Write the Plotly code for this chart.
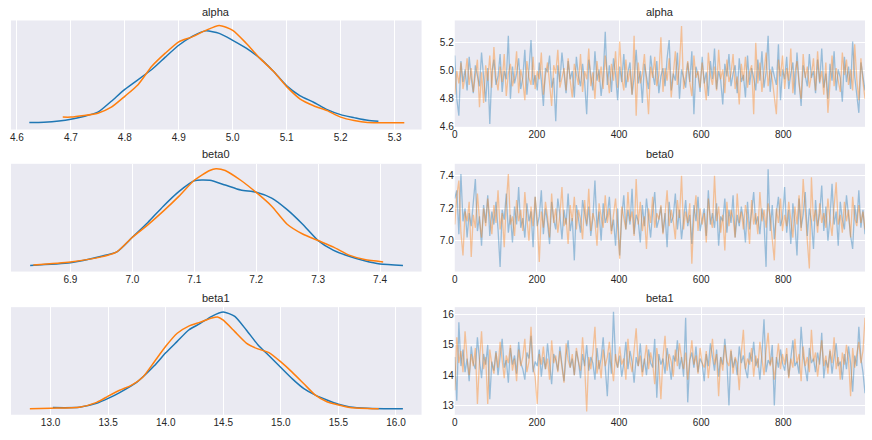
import numpy as np
import plotly.graph_objects as go

# ---------------- data ----------------
params = ["alpha", "beta0", "beta1"]

# KDE curves (value grid, density) read from the left column
alpha_kde_x_c0 = [4.623, 4.65, 4.70, 4.75, 4.775, 4.80, 4.85, 4.875, 4.90, 4.925, 4.95, 4.975, 5.00, 5.025, 5.05, 5.075, 5.10, 5.125, 5.15, 5.175, 5.20, 5.225, 5.25, 5.27]
alpha_kde_y_c0 = [0.08, 0.09, 0.21, 0.50, 0.94, 1.42, 2.22, 2.72, 3.20, 3.56, 3.78, 3.68, 3.40, 3.08, 2.68, 2.16, 1.56, 1.16, 0.90, 0.60, 0.40, 0.28, 0.17, 0.13]
alpha_kde_x_c1 = [4.685, 4.70, 4.75, 4.775, 4.80, 4.825, 4.85, 4.875, 4.90, 4.925, 4.95, 4.975, 5.00, 5.025, 5.05, 5.075, 5.10, 5.125, 5.15, 5.175, 5.20, 5.225, 5.25, 5.30, 5.318]
alpha_kde_y_c1 = [0.30, 0.30, 0.46, 0.70, 1.14, 1.62, 2.35, 2.88, 3.34, 3.54, 3.80, 4.00, 3.80, 3.28, 2.68, 2.16, 1.53, 1.03, 0.76, 0.56, 0.30, 0.16, 0.08, 0.07, 0.07]

beta0_kde_x_c0 = [6.835, 6.90, 6.95, 6.975, 7.00, 7.025, 7.05, 7.075, 7.10, 7.125, 7.15, 7.175, 7.20, 7.225, 7.25, 7.275, 7.30, 7.325, 7.35, 7.375, 7.40, 7.437]
beta0_kde_y_c0 = [0.06, 0.18, 0.48, 0.68, 1.35, 2.03, 2.78, 3.45, 3.95, 3.97, 3.75, 3.52, 3.42, 3.15, 2.62, 1.95, 1.20, 0.75, 0.48, 0.27, 0.12, 0.06]
beta0_kde_x_c1 = [6.84, 6.90, 6.95, 6.975, 7.00, 7.025, 7.05, 7.075, 7.10, 7.125, 7.135, 7.15, 7.175, 7.20, 7.225, 7.25, 7.275, 7.30, 7.325, 7.35, 7.375, 7.405]
beta0_kde_y_c1 = [0.08, 0.22, 0.45, 0.68, 1.35, 1.92, 2.55, 3.23, 3.97, 4.42, 4.50, 4.42, 3.97, 3.41, 2.78, 1.95, 1.50, 1.20, 0.90, 0.53, 0.33, 0.22]

beta1_kde_x_c0 = [13.02, 13.25, 13.40, 13.50, 13.60, 13.75, 13.90, 14.00, 14.10, 14.20, 14.30, 14.40, 14.50, 14.60, 14.70, 14.80, 14.90, 15.00, 15.10, 15.20, 15.30, 15.40, 15.50, 15.60, 15.75, 16.06]
beta1_kde_y_c0 = [0.021, 0.024, 0.060, 0.105, 0.159, 0.255, 0.405, 0.525, 0.630, 0.735, 0.795, 0.861, 0.900, 0.861, 0.735, 0.600, 0.495, 0.390, 0.285, 0.195, 0.135, 0.090, 0.051, 0.027, 0.015, 0.009]
beta1_kde_x_c1 = [12.82, 13.00, 13.25, 13.40, 13.50, 13.60, 13.70, 13.80, 13.90, 14.00, 14.10, 14.20, 14.30, 14.40, 14.45, 14.50, 14.60, 14.70, 14.80, 14.90, 15.00, 15.10, 15.20, 15.30, 15.40, 15.50, 15.60, 15.85]
beta1_kde_y_c1 = [0.009, 0.015, 0.024, 0.069, 0.126, 0.180, 0.225, 0.300, 0.441, 0.585, 0.705, 0.771, 0.807, 0.846, 0.855, 0.825, 0.720, 0.615, 0.561, 0.525, 0.441, 0.345, 0.240, 0.135, 0.075, 0.045, 0.021, 0.009]

# Trace samples (thinned reading of the right column, 1000 draws per chain)
alpha_trace_c0 = [
    5.11, 4.80, 4.68, 5.07, 4.92, 5.01, 4.86, 5.10, 4.95, 4.84, 5.04, 4.97, 4.89, 5.13, 4.93, 4.78, 5.02, 4.62, 4.99, 5.08,
    4.90, 4.96, 5.12, 4.85, 5.00, 4.94, 5.25, 4.80, 5.03, 4.91, 4.98, 5.09, 4.87, 4.95, 5.15, 4.83, 5.01, 5.22, 4.90, 4.97,
    4.86, 5.06, 4.93, 4.75, 5.02, 4.99, 5.11, 4.88, 4.95, 4.64, 5.04, 4.92, 5.13, 4.97, 4.84, 5.07, 4.94, 5.00, 4.81, 5.10,
    4.96, 4.89, 5.05, 4.92, 4.69, 5.08, 4.98, 4.86, 5.14, 4.93, 5.01, 4.82, 4.96, 5.28, 4.90, 5.04, 4.85, 5.09, 4.97, 4.79,
    5.03, 4.92, 5.12, 4.88, 4.99, 5.06, 4.83, 4.95, 5.15, 4.91, 5.00, 4.77, 5.05, 4.94, 4.87, 5.11, 4.98, 4.90, 5.07, 4.84,
    4.96, 5.02, 4.89, 5.09, 5.22, 4.86, 4.98, 4.93, 5.13, 4.80, 5.01, 4.95, 4.88, 5.06, 4.92, 5.14, 4.69, 5.03, 4.97, 4.85,
    5.10, 4.91, 4.99, 4.82, 5.07, 4.94, 5.16, 4.87, 5.00, 4.93, 4.76, 5.05, 4.96, 5.12, 4.89, 4.98, 5.04, 4.84, 5.09, 4.92,
    4.97, 4.81, 5.11, 4.90, 5.02, 4.95, 4.86, 5.08, 4.93, 5.14, 4.88, 4.99, 5.25, 4.85, 5.03, 4.96, 4.90, 5.19, 4.79, 5.01,
    4.94, 5.10, 4.87, 4.98, 5.06, 4.83, 5.13, 4.92, 4.75, 5.04, 4.97, 4.89, 5.12, 4.95, 5.00, 4.84, 5.08, 4.91, 5.16, 4.88,
    4.98, 4.80, 5.05, 4.93, 5.14, 4.86, 5.01, 4.95, 4.78, 5.10, 4.92, 5.03, 4.87, 5.21, 4.96, 4.83, 4.70, 5.06, 4.94, 4.86]
alpha_trace_c1 = [
    4.83, 5.00, 4.91, 5.06, 4.87, 4.96, 5.09, 4.90, 5.02, 4.85, 4.97, 5.08, 4.74, 4.99, 4.77, 5.04, 4.93, 5.11, 4.88, 5.17,
    4.95, 4.86, 5.03, 4.92, 5.12, 4.82, 4.98, 5.05, 4.89, 4.96, 5.14, 4.84, 5.01, 4.93, 4.79, 5.07, 4.95, 4.90, 5.10, 4.87,
    5.00, 4.94, 5.13, 4.83, 4.97, 5.06, 4.91, 4.75, 5.04, 4.98, 5.15, 4.88, 4.95, 5.02, 4.86, 5.09, 4.93, 4.81, 5.05, 4.97,
    4.90, 5.12, 4.85, 5.00, 4.94, 5.16, 4.89, 4.99, 4.80, 5.07, 4.92, 5.03, 4.87, 5.11, 4.96, 4.84, 5.05, 4.93, 5.14, 4.88,
    5.21, 4.95, 4.86, 5.08, 4.92, 5.01, 4.83, 5.25, 4.68, 5.06, 4.91, 4.98, 5.12, 4.87, 4.69, 5.03, 4.95, 5.10, 4.89, 4.97,
    5.24, 4.85, 5.02, 4.93, 5.09, 4.81, 4.98, 5.14, 4.90, 5.04, 5.32, 4.87, 4.96, 5.07, 4.92, 4.82, 5.11, 4.95, 5.00, 4.88,
    5.06, 4.93, 4.79, 5.13, 4.97, 4.90, 5.03, 4.86, 5.15, 4.94, 5.01, 4.84, 5.08, 4.92, 4.98, 5.12, 4.87, 4.96, 4.76, 5.05,
    4.93, 5.10, 4.88, 4.99, 5.04, 4.69, 5.20, 4.91, 5.06, 4.85, 4.97, 5.13, 4.89, 5.01, 4.94, 4.82, 4.69, 5.08, 4.96, 5.11,
    4.87, 5.02, 4.93, 5.16, 4.84, 4.99, 5.07, 4.91, 4.80, 5.12, 4.95, 5.03, 4.88, 4.97, 5.09, 4.86, 5.14, 4.92, 5.00, 4.83,
    5.06, 4.70, 4.95, 5.11, 4.89, 5.02, 4.93, 4.85, 5.13, 4.97, 5.08, 4.90, 5.01, 4.86, 5.19, 4.94, 4.79, 5.09, 4.92, 4.80]

beta0_trace_c0 = [
    7.26, 7.31, 7.04, 7.41, 7.12, 7.20, 7.02, 7.17, 7.09, 7.25, 7.38, 7.06, 7.15, 6.97, 7.22, 7.11, 7.28, 7.03, 7.18, 7.10,
    7.24, 7.07, 6.84, 7.19, 7.13, 7.29, 7.05, 7.16, 6.99, 7.21, 7.10, 7.33, 7.08, 7.14, 7.02, 7.23, 7.12, 7.18, 6.96, 7.27,
    7.09, 7.15, 7.31, 7.04, 7.20, 7.11, 6.98, 7.24, 7.13, 7.07, 7.26, 7.16, 7.01, 7.19, 7.10, 7.29, 7.06, 7.14, 6.88, 7.22,
    7.12, 7.05, 7.25, 7.17, 7.09, 7.21, 7.03, 7.14, 7.37, 7.08, 7.18, 7.00, 7.23, 7.11, 7.16, 7.27, 7.06, 7.13, 6.97, 7.20,
    6.91, 7.15, 7.28, 7.07, 7.19, 7.10, 7.32, 7.04, 7.16, 7.12, 6.99, 7.22, 7.09, 7.26, 7.14, 7.02, 7.18, 7.30, 7.08, 7.13,
    7.21, 7.05, 7.17, 6.96, 7.24, 7.11, 7.15, 7.29, 7.07, 7.19, 7.01, 7.13, 7.25, 7.09, 7.16, 6.98, 7.22, 7.12, 7.27, 7.06,
    7.14, 7.20, 7.03, 7.31, 7.10, 7.17, 7.08, 7.23, 6.97, 7.15, 7.12, 7.26, 7.05, 7.19, 7.11, 7.28, 7.02, 7.16, 7.09, 7.21,
    7.13, 6.99, 7.24, 7.07, 7.18, 7.30, 7.10, 7.15, 7.04, 7.20, 7.12, 6.84, 7.44, 7.06, 7.22, 7.01, 7.17, 7.27, 7.09, 7.14,
    7.33, 7.05, 7.19, 6.98, 7.23, 7.11, 6.91, 7.26, 7.08, 7.16, 7.30, 7.03, 7.20, 7.12, 6.95, 7.25, 7.09, 7.17, 7.34, 7.06,
    7.21, 7.00, 7.14, 7.35, 7.10, 7.18, 6.97, 7.24, 7.13, 7.07, 7.28, 7.15, 7.03, 6.95, 7.22, 7.11, 7.31, 7.08, 7.19, 7.04]
beta0_trace_c1 = [
    7.10, 7.28, 7.37, 7.05, 6.91, 7.18, 7.12, 7.24, 6.90, 7.16, 7.08, 7.29, 7.13, 7.02, 7.20, 7.09, 7.26, 7.14, 7.04, 7.22,
    7.11, 7.31, 7.07, 7.17, 6.96, 7.23, 7.41, 7.10, 7.15, 7.03, 7.25, 7.12, 7.19, 7.06, 7.30, 7.14, 7.00, 7.21, 7.09, 7.27,
    7.13, 6.87, 7.18, 7.08, 7.24, 7.15, 7.02, 7.29, 7.11, 7.20, 7.05, 7.16, 7.33, 7.09, 7.14, 6.98, 7.22, 7.12, 7.27, 7.07,
    7.19, 7.13, 7.01, 7.25, 7.10, 7.32, 7.06, 7.17, 7.12, 6.97, 7.23, 7.15, 7.08, 7.28, 7.11, 7.20, 7.04, 7.16, 7.26, 7.09,
    6.89, 7.21, 7.14, 7.07, 7.30, 7.12, 7.18, 7.03, 7.38, 7.10, 7.24, 7.06, 7.15, 6.95, 7.20, 7.11, 7.27, 7.08, 7.17, 7.13,
    7.22, 7.04, 7.16, 7.31, 7.09, 7.19, 7.12, 7.01, 7.25, 7.14, 7.40, 7.07, 7.18, 7.11, 7.23, 6.86, 7.15, 7.28, 7.06, 7.20,
    7.10, 7.17, 6.99, 7.26, 7.13, 7.08, 7.40, 7.12, 7.21, 7.05, 7.16, 6.94, 7.24, 7.09, 7.19, 7.14, 7.02, 7.29, 7.11, 7.18,
    7.07, 7.22, 7.13, 6.98, 7.25, 7.10, 7.17, 7.04, 7.30, 7.12, 7.19, 7.08, 7.23, 7.15, 7.01, 6.88, 7.20, 7.11, 7.26, 7.06,
    7.16, 7.09, 7.24, 7.13, 7.02, 7.21, 7.10, 7.28, 7.06, 7.38, 7.15, 7.00, 6.83, 7.39, 7.12, 7.19, 7.05, 7.23, 7.11, 7.17,
    7.08, 7.26, 7.13, 7.03, 7.21, 7.36, 7.10, 7.16, 7.05, 7.24, 7.12, 7.19, 7.02, 7.27, 7.14, 7.09, 7.22, 7.11, 7.18, 7.07]

beta1_trace_c0 = [
    14.60, 13.15, 15.75, 14.30, 14.85, 14.10, 14.55, 13.80, 14.95, 14.40, 14.20, 15.25, 14.50, 13.90, 14.70, 14.35, 15.00, 13.20, 14.45, 14.15,
    14.80, 14.00, 14.60, 15.20, 14.25, 14.50, 13.75, 14.90, 14.35, 14.65, 14.05, 15.10, 14.40, 14.20, 13.85, 14.75, 14.55, 15.30, 14.10, 14.45,
    14.30, 14.85, 13.95, 14.60, 14.20, 15.05, 14.40, 13.70, 14.70, 14.50, 14.15, 14.95, 14.35, 13.80, 14.65, 15.15, 14.25, 14.55, 14.00, 14.80,
    14.45, 13.90, 14.70, 14.30, 15.00, 14.15, 14.60, 14.40, 13.85, 14.90, 14.20, 14.55, 15.25, 14.35, 13.30, 14.75, 14.05, 16.10, 14.50, 14.25,
    14.65, 13.95, 14.40, 15.10, 14.20, 14.80, 14.45, 13.75, 14.60, 14.30, 15.05, 14.10, 14.55, 14.00, 14.85, 14.40, 14.25, 15.20, 13.25, 14.70,
    14.35, 14.55, 14.05, 14.90, 14.30, 13.85, 14.65, 14.45, 15.15, 14.20, 14.60, 13.95, 15.90, 13.10, 14.50, 14.75, 14.25, 14.95, 14.10, 14.55,
    14.40, 13.80, 14.70, 14.30, 15.05, 14.50, 14.15, 14.85, 13.95, 14.60, 14.35, 15.20, 14.45, 13.00, 14.80, 14.25, 14.55, 14.00, 14.95, 14.40,
    14.65, 14.20, 13.90, 14.75, 14.45, 15.10, 14.30, 14.55, 13.85, 14.70, 15.85, 14.10, 14.50, 14.35, 15.00, 13.00, 14.60, 14.25, 14.85, 14.40,
    14.15, 14.70, 13.95, 14.55, 15.15, 14.30, 14.45, 14.05, 15.60, 14.65, 14.20, 13.80, 14.90, 14.40, 14.55, 14.10, 14.75, 14.35, 15.40, 13.90,
    14.50, 14.25, 14.80, 14.05, 14.60, 15.05, 14.30, 14.45, 13.85, 14.70, 14.20, 14.95, 14.40, 13.45, 14.65, 14.30, 15.60, 14.55, 14.10, 13.40]
beta1_trace_c1 = [
    13.50, 15.25, 14.40, 14.80, 14.10, 15.45, 14.55, 14.00, 14.70, 14.30, 14.90, 13.05, 14.45, 15.45, 14.20, 14.60, 13.05, 14.85, 14.35, 14.05,
    14.75, 14.25, 15.10, 14.50, 13.90, 14.65, 14.40, 15.00, 14.15, 14.55, 13.80, 14.85, 14.30, 14.60, 15.20, 14.10, 14.45, 15.60, 14.25, 13.95,
    13.05, 14.70, 14.35, 14.95, 14.20, 14.55, 13.85, 15.15, 14.40, 14.65, 14.10, 14.80, 14.30, 13.75, 15.05, 14.50, 14.25, 14.70, 14.00, 14.90,
    14.45, 14.15, 15.25, 14.35, 12.80, 14.60, 14.20, 14.75, 15.60, 14.05, 14.50, 13.90, 14.85, 14.30, 14.60, 15.10, 14.40, 13.80, 14.70, 14.25,
    14.95, 14.35, 14.55, 13.85, 15.20, 14.45, 14.10, 14.80, 15.55, 14.30, 14.65, 13.95, 14.50, 15.00, 14.20, 14.75, 14.40, 13.70, 14.90, 14.35,
    13.20, 14.60, 15.30, 14.15, 14.70, 14.45, 13.95, 14.85, 14.30, 15.05, 14.55, 14.20, 14.75, 13.85, 14.50, 15.15, 14.35, 14.65, 14.05, 14.90,
    14.40, 14.25, 14.80, 13.90, 14.55, 15.20, 14.35, 14.70, 13.30, 14.60, 14.15, 15.00, 14.45, 14.30, 14.85, 14.05, 14.60, 14.40, 13.50, 14.75,
    15.50, 14.20, 14.55, 14.35, 14.90, 13.95, 14.65, 14.25, 15.10, 14.50, 14.00, 14.80, 15.40, 14.30, 14.60, 13.85, 14.45, 15.05, 14.20, 14.70,
    14.35, 14.90, 13.90, 14.55, 14.25, 15.20, 14.40, 14.70, 13.80, 14.95, 14.30, 14.60, 14.10, 15.50, 14.45, 14.75, 13.95, 14.55, 15.15, 14.30,
    14.65, 14.05, 14.85, 14.40, 15.25, 14.20, 14.60, 13.85, 14.75, 14.35, 15.00, 14.50, 13.30, 14.90, 14.25, 14.70, 15.10, 14.40, 14.80, 15.90]

n_draws = 1000
chain_colors = ["#1f77b4", "#ff7f0e"]
trace_colors = ["rgba(31,119,180,0.40)", "rgba(255,127,14,0.40)"]

kde = {
    "alpha": [(alpha_kde_x_c0, alpha_kde_y_c0), (alpha_kde_x_c1, alpha_kde_y_c1)],
    "beta0": [(beta0_kde_x_c0, beta0_kde_y_c0), (beta0_kde_x_c1, beta0_kde_y_c1)],
    "beta1": [(beta1_kde_x_c0, beta1_kde_y_c0), (beta1_kde_x_c1, beta1_kde_y_c1)],
}
traces = {
    "alpha": [alpha_trace_c0, alpha_trace_c1],
    "beta0": [beta0_trace_c0, beta0_trace_c1],
    "beta1": [beta1_trace_c0, beta1_trace_c1],
}

# ---------------- layout geometry ----------------
W, H = 872, 440
left_x = [8 / W, 420 / W]
right_x = [453.3 / W, 865 / W]
rows_left_y = [[1 - 131 / H, 1 - 20.7 / H], [1 - 274.7 / H, 1 - 165.7 / H], [1 - 419.5 / H, 1 - 310.7 / H]]
rows_right_y = [[1 - 128.3 / H, 1 - 20.7 / H], [1 - 274.7 / H, 1 - 165.7 / H], [1 - 419.5 / H, 1 - 310.7 / H]]
title_y = [1 - 11.7 / H, 1 - 155.7 / H, 1 - 301.7 / H]

kde_xrange = {"alpha": [4.589, 5.350], "beta0": [6.804, 7.467], "beta1": [12.656, 16.222]}
trace_yrange = {"alpha": [4.60, 5.36], "beta0": [6.811, 7.473], "beta1": [12.69, 16.25]}
trace_yticks = {"alpha": [4.6, 4.8, 5.0, 5.2], "beta0": [7.0, 7.2, 7.4], "beta1": [13, 14, 15, 16]}
kde_xticks = {
    "alpha": [4.6, 4.7, 4.8, 4.9, 5.0, 5.1, 5.2, 5.3],
    "beta0": [6.9, 7.0, 7.1, 7.2, 7.3, 7.4],
    "beta1": [13.0, 13.5, 14.0, 14.5, 15.0, 15.5, 16.0],
}

fig = go.Figure()
font_col = "#262626"
tick_font = dict(family="Liberation Sans, Arial, sans-serif", size=10, color=font_col)

layout = dict(
    width=W, height=H,
    margin=dict(l=0, r=0, t=0, b=0),
    paper_bgcolor="white",
    plot_bgcolor="#EAEAF2",
    showlegend=False,
    annotations=[],
)

for i, p in enumerate(params):
    ka = 2 * i + 1
    ta = 2 * i + 2
    kx, ky = ("x" if ka == 1 else f"x{ka}"), ("y" if ka == 1 else f"y{ka}")
    tx, ty = f"x{ta}", f"y{ta}"

    ymax = 0
    for c, (xs, ys) in enumerate(kde[p]):
        ymax = max(ymax, max(ys))
        fig.add_trace(go.Scatter(x=xs, y=ys, mode="lines",
                                 line=dict(color=chain_colors[c], width=1.5, shape="spline", smoothing=0.6),
                                 xaxis=kx, yaxis=ky, hoverinfo="skip"))
    for c, vals in enumerate(traces[p]):
        draws = np.linspace(0, n_draws - 1, len(vals))
        fig.add_trace(go.Scatter(x=draws, y=vals, mode="lines", line=dict(color=trace_colors[c], width=1.3),
                                 xaxis=tx, yaxis=ty, hoverinfo="skip"))

    kxname = "xaxis" if ka == 1 else f"xaxis{ka}"
    kyname = "yaxis" if ka == 1 else f"yaxis{ka}"
    layout[kxname] = dict(domain=left_x, anchor=ky, range=kde_xrange[p], tickvals=kde_xticks[p],
                          ticktext=[f"{v:.1f}" for v in kde_xticks[p]],
                          showgrid=True, gridcolor="white", gridwidth=1, zeroline=False, showline=False,
                          ticks="", tickfont=tick_font)
    layout[kyname] = dict(domain=rows_left_y[i], anchor=kx, range=[-0.05 * ymax, 1.05 * ymax],
                          showticklabels=False, showgrid=False, zeroline=False, showline=False, ticks="")
    layout[f"xaxis{ta}"] = dict(domain=right_x, anchor=ty, range=[0, n_draws - 1], tickvals=[0, 200, 400, 600, 800],
                                showgrid=True, gridcolor="white", gridwidth=1, zeroline=False, showline=False,
                                ticks="", tickfont=tick_font)
    layout[f"yaxis{ta}"] = dict(domain=rows_right_y[i], anchor=tx, range=trace_yrange[p], tickvals=trace_yticks[p],
                                ticktext=[(f"{v:.1f}" if p != "beta1" else f"{v:d}") for v in trace_yticks[p]],
                                showgrid=True, gridcolor="white", gridwidth=1, zeroline=False, showline=False,
                                ticks="", tickfont=tick_font)

    for xc in [(left_x[0] + left_x[1]) / 2, (right_x[0] + right_x[1]) / 2]:
        layout["annotations"].append(dict(text=p, x=xc, y=title_y[i], xref="paper", yref="paper",
                                          xanchor="center", yanchor="middle", showarrow=False,
                                          font=dict(family="Liberation Sans, Arial, sans-serif", size=11, color=font_col)))

fig.update_layout(**layout)
fig.write_html("out.html")
